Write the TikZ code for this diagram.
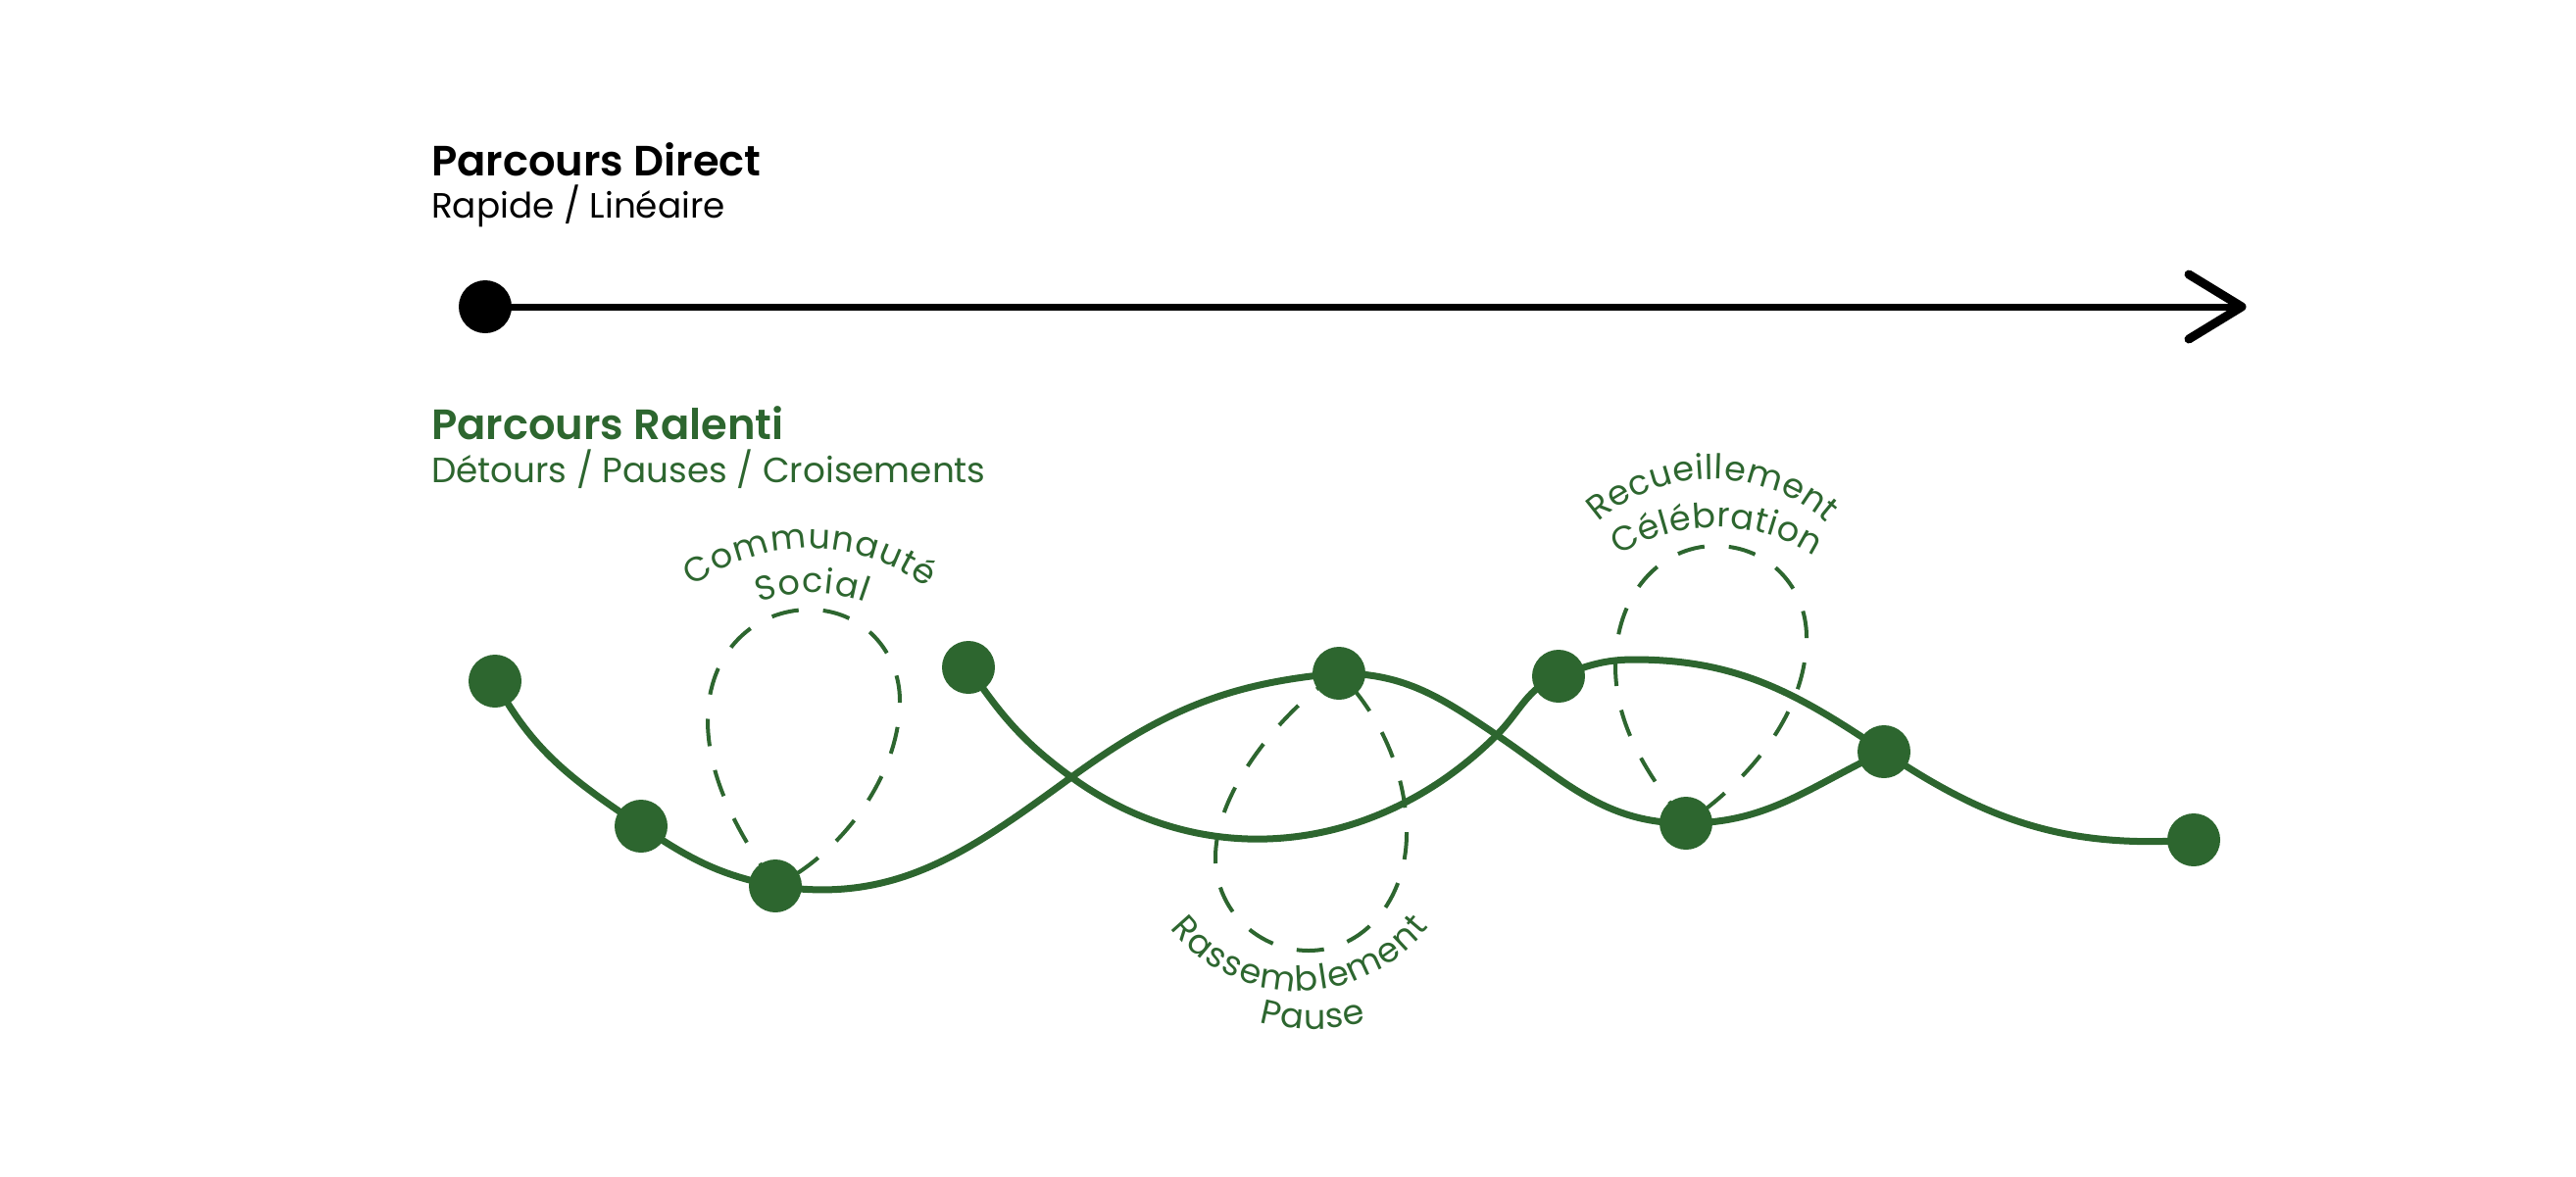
\documentclass[tikz,border=0pt]{standalone}
\usepackage{fontspec}
\setmainfont{Poppins}[BoldFont={Poppins SemiBold}]
\usetikzlibrary{decorations.text,backgrounds}
\definecolor{pgreen}{RGB}{45,102,47}
\newcommand\lblfont{\fontsize{35}{40}\selectfont\color{pgreen}\kern1pt}
\newcommand\lblfontb{\fontsize{35}{40}\selectfont\color{pgreen}\kern0.5pt}
\newcommand\lblfontc{\fontsize{35}{40}\selectfont\color{pgreen}\kern1.5pt}
\begin{document}
\begin{tikzpicture}[x=1pt,y=1pt,
  gdot/.style={circle, fill=pgreen, inner sep=0pt, minimum size=54pt},
  bdot/.style={circle, fill=black, inner sep=0pt, minimum size=54pt},
  route/.style={draw=pgreen, line width=7pt, line cap=round},
  loopline/.style={draw=pgreen, line width=4pt, dash pattern=on 28pt off 25pt},
  ttl/.style={anchor=base west, inner sep=0pt, font=\fontsize{43.2}{48}\selectfont\bfseries},
  subttl/.style={anchor=base west, inner sep=0pt, font=\fontsize{35.8}{42}\selectfont}
]
\useasboundingbox (0,0) rectangle (2628,-1200);

% titles
\node[ttl] (t1) at (440,-179) {Parcours Direct};
\node[subttl] (s1) at (440,-222) {Rapide / Linéaire};
\node[ttl, text=pgreen] (t2) at (440,-448) {Parcours Ralenti};
\node[subttl, text=pgreen] (s2) at (440,-492) {Détours / Pauses / Croisements};

% direct route
\node[bdot] (b0) at (495,-313) {};
\coordinate (tip) at (2287,-313);

% slow route dots
\node[gdot] (d1) at (505,-695) {};
\node[gdot] (d2) at (654,-843) {};
\node[gdot] (d3) at (791,-904) {};
\node[gdot] (d4) at (988,-681) {};
\node[gdot] (d5) at (1366,-687) {};
\node[gdot] (d6) at (1590,-690) {};
\node[gdot] (d7) at (1720,-840) {};
\node[gdot] (d8) at (1922,-767) {};
\node[gdot] (d9) at (2238,-857) {};
\coordinate (x1) at (1093,-793);
\coordinate (x2) at (1527,-750);
\coordinate (topb) at (1667,-673);

\begin{scope}[on background layer]
  \draw[line width=7pt] (b0.center) -- ([xshift=-4pt]tip);
  \draw[line width=9pt, line cap=round, line join=round]
    ([shift={(-54,33)}]tip) -- (tip) -- ([shift={(-54,-33)}]tip);

  % route A
  \draw[route] (d1.center) to[out=-62,in=146] (d2.center)
    to[out=-34,in=169] (d3.center)
    to[out=-9,in=216] (x1)
    to[out=36,in=185] (d5.center)
    to[out=0,in=146] (x2)
    to[out=-34,in=180] (d7.center)
    to[out=0,in=205] (d8.center);
  % route B
  \draw[route] (d4.center) to[out=-56,in=144] (x1)
    to[out=-36,in=225] (x2)
    to[out=45,in=200] (d6.center)
    to[out=20,in=180] (topb)
    to[out=0,in=146] (d8.center)
    to[out=-34,in=184] (d9.center);

  % dashed loops
  \draw[loopline] (d3.center) .. controls (760,-860) and (722,-800) .. (722,-735)
    .. controls (722,-665) and (770,-622) .. (826,-622)
    .. controls (880,-622) and (918,-665) .. (918,-715)
    .. controls (918,-790) and (860,-870) .. (d3.center);
  \draw[loopline] (d5.center) .. controls (1320,-715) and (1240,-800) .. (1240,-875)
    .. controls (1240,-930) and (1285,-970) .. (1335,-970)
    .. controls (1390,-970) and (1435,-920) .. (1435,-850)
    .. controls (1435,-780) and (1400,-720) .. (d5.center);
  \draw[loopline] (d7.center) .. controls (1680,-790) and (1648,-740) .. (1648,-680)
    .. controls (1648,-605) and (1695,-557) .. (1750,-557)
    .. controls (1805,-557) and (1843,-600) .. (1843,-650)
    .. controls (1843,-730) and (1780,-800) .. (d7.center);
\end{scope}

% arched labels
\path[decorate, decoration={text along path, text align=center, text={|\lblfont|Communauté}}]
  ([shift={(165:200)}]826,-760) arc[start angle=165, end angle=15, radius=200];
\path[decorate, decoration={text along path, text align=center, text={|\lblfont|Social}}]
  ([shift={(150:155)}]828,-760) arc[start angle=150, end angle=30, radius=155];
\path[decorate, decoration={text along path, text align=center, text={|\lblfontc|Rassemblement}}]
  ([shift={(190:168)}]1325,-843) arc[start angle=190, end angle=350, radius=168];
\path[decorate, decoration={text along path, text align=center, text={|\lblfont|Pause}}]
  ([shift={(200:207)}]1339,-843) arc[start angle=200, end angle=340, radius=207];
\path[decorate, decoration={text along path, text align=center, text={|\lblfontb|Recueillement}}]
  ([shift={(170:175)}]1747,-664) arc[start angle=170, end angle=10, radius=175];
\path[decorate, decoration={text along path, text align=center, text={|\lblfontb|Célébration}}]
  ([shift={(165:185)}]1751,-723) arc[start angle=165, end angle=15, radius=185];
\end{tikzpicture}
\end{document}
